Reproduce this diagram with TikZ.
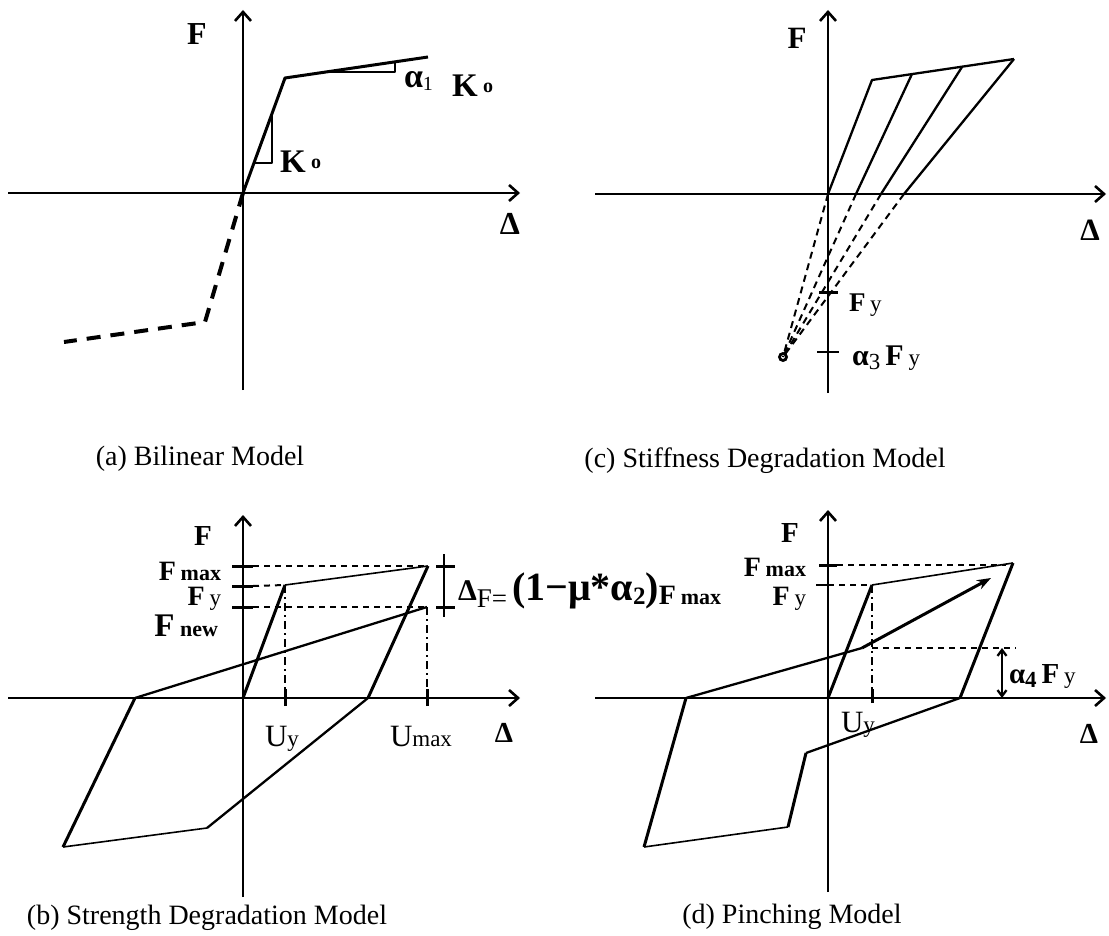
\documentclass[tikz,border=0pt]{standalone}
\usepackage{fontspec}
\setmainfont{Liberation Serif}
\usetikzlibrary{arrows.meta}
\newcommand{\sz}[1]{\fontsize{#1}{#1}\selectfont}
\begin{document}
\begin{tikzpicture}[x=1pt,y=-1pt,
  axis/.style={line width=2.6pt,-{Straight Barb[length=9pt,width=16pt]}},
  thk/.style={line width=3pt,line join=round},
  med/.style={line width=2.3pt,line join=round},
  thn/.style={line width=1.6pt,line join=round},
  tickline/.style={line width=3pt},
  guide/.style={line width=2pt,dash pattern=on 6pt off 5pt},
  vguide/.style={line width=2pt,dash pattern=on 8pt off 4pt on 2pt off 4pt},
  lab/.style={inner sep=0pt,outer sep=0pt},
  captext/.style={inner sep=0pt,font=\sz{28}}
]
\useasboundingbox (0,0) rectangle (1109,936);

%% ---------------- (a) Bilinear ----------------
\coordinate (aXl) at (8,193);   \coordinate (aXr) at (520,193);
\coordinate (aYb) at (243,390); \coordinate (aYt) at (243,10);
\coordinate (aO) at (243,193);
\coordinate (aK) at (285,78);   \coordinate (aE) at (428,57);
\coordinate (aNk) at (205,322); \coordinate (aNe) at (64,342);
\coordinate (aT1) at (254,163); \coordinate (aT2) at (272,163); \coordinate (aT3) at (272,114);
\coordinate (aS1) at (326,72);  \coordinate (aS2) at (395,72);  \coordinate (aS3) at (395,62);
\draw[axis] (aXl) -- (aXr);
\draw[axis] (aYb) -- (aYt);
\draw[thk] (aO) -- (aK) -- (aE);
\draw[line width=4pt,dash pattern=on 14pt off 10pt] (aO) -- (aNk) -- (aNe);
\draw[med] (aT1) -- (aT2) -- (aT3);
\draw[med] (aS1) -- (aS2) -- (aS3);
\node[lab,font=\sz{32}\bfseries] (aF) at (197,34) {F};
\node[lab,font=\sz{32}\bfseries] (aD) at (510,224) {Δ};
\node[lab,anchor=base west] (aK0) at (280,173) {\sz{33}\bfseries K\,\raisebox{4pt}{\sz{20}\bfseries o}};
\node[lab,anchor=base west] (aAl) at (404,88) {\sz{34}\bfseries α\raisebox{-3pt}{\sz{20}\mdseries 1}};
\node[lab,anchor=base west] (aK1) at (452,97) {\sz{33}\bfseries K\,\raisebox{4pt}{\sz{20}\bfseries o}};
\node[captext] (capa) at (200,459) {(a) Bilinear Model};

%% ---------------- (c) Stiffness degradation ----------------
\coordinate (cXl) at (595,194);  \coordinate (cXr) at (1106,194);
\coordinate (cYb) at (828,393);  \coordinate (cYt) at (828,10);
\coordinate (cO) at (828,194);
\coordinate (cA) at (872,80);  \coordinate (cB) at (912,74);
\coordinate (cC) at (962,67);  \coordinate (cD) at (1014,59);
\coordinate (cB1) at (856,194); \coordinate (cC1) at (881,194); \coordinate (cD1) at (904,194);
\coordinate (cP) at (783,357);
\coordinate (cT1) at (819,293); \coordinate (cT2) at (838,293);
\coordinate (cU1) at (817,352); \coordinate (cU2) at (839,352);
\draw[axis] (cXl) -- (cXr);
\draw[axis] (cYb) -- (cYt);
\draw[med] (cO) -- (cA) -- (cD);
\draw[med] (cB) -- (cB1);
\draw[med] (cC) -- (cC1);
\draw[med] (cD) -- (cD1);
\draw[line width=2pt,dash pattern=on 7pt off 5pt] (cO) -- (cP);
\draw[line width=2pt,dash pattern=on 7pt off 5pt] (cB1) -- (cP);
\draw[line width=2pt,dash pattern=on 7pt off 5pt] (cC1) -- (cP);
\draw[line width=2pt,dash pattern=on 7pt off 5pt] (cD1) -- (cP);
\draw[line width=2.8pt] (cP) circle (3.5);
\draw[tickline] (cT1) -- (cT2);
\draw[thn] (cU1) -- (cU2);
\node[lab,font=\sz{31}\bfseries] (cF) at (797,38) {F};
\node[lab,font=\sz{31}\bfseries] (cD0) at (1090,230) {Δ};
\node[lab,anchor=base west] (cFy) at (849,312) {\sz{27}\bfseries F\,{\sz{23}\mdseries y}};
\node[lab,anchor=base west] (cAFy) at (852,365) {\sz{30}\bfseries α\raisebox{-4pt}{\sz{23}\mdseries 3}\,F\,{\sz{23}\mdseries y}};
\node[captext] (capc) at (765,461) {(c) Stiffness Degradation Model};

%% ---------------- (b) Strength degradation ----------------
\coordinate (bXl) at (8,698);   \coordinate (bXr) at (520,698);
\coordinate (bYb) at (243,897); \coordinate (bYt) at (243,515);
\coordinate (bO) at (243,698);
\coordinate (bY) at (285,585);  \coordinate (bM) at (428,566);
\coordinate (bX1) at (368,698); \coordinate (bN) at (207,828);
\coordinate (bL) at (63,847);   \coordinate (bX2) at (135,698);
\coordinate (bNew) at (427,607);
\coordinate (bFm) at (243,566); \coordinate (bFy) at (243,586); \coordinate (bFn) at (243,607);
\coordinate (bUy) at (285,698); \coordinate (bUm) at (427,698);
\draw[axis] (bXl) -- (bXr);
\draw[axis] (bYb) -- (bYt);
\draw[tickline] ([xshift=-11pt]bFm) -- ([xshift=10pt]bFm);
\draw[tickline] ([xshift=-11pt]bFy) -- ([xshift=10pt]bFy);
\draw[tickline] ([xshift=-11pt]bFn) -- ([xshift=10pt]bFn);
\draw[guide] ([xshift=10pt]bFm) -- (bM);
\draw[guide] ([xshift=10pt]bFy) -- (bY);
\draw[guide] ([xshift=10pt]bFn) -- (bNew);
\draw[vguide] (bY) -- (bUy);
\draw[vguide] (bNew) -- (bUm);
\draw[tickline] ([yshift=-8pt]bUy) -- ([yshift=9pt]bUy);
\draw[tickline] ([yshift=-8pt]bUm) -- ([yshift=9pt]bUm);
\draw[thk] (bO) -- (bY);
\draw[thn] (bY) -- (bM);
\draw[thk] (bM) -- (bX1);
\draw[med] (bX1) -- (bN);
\draw[thn] (bN) -- (bL);
\draw[thk] (bL) -- (bX2);
\draw[med] (bX2) -- (bNew);
% Delta F bracket
\coordinate (bBt) at (444,554); \coordinate (bBb) at (444,617);
\coordinate (bBm) at (444,566); \coordinate (bBn) at (444,607);
\draw[med] (bBt) -- (bBb);
\draw[tickline] ([xshift=-8pt]bBm) -- ([xshift=11pt]bBm);
\draw[tickline] ([xshift=-8pt]bBn) -- ([xshift=11pt]bBn);
\node[lab,font=\sz{29}\bfseries] (bF) at (203,536) {F};
\node[lab,anchor=base east] (bFmax) at (221,580) {\sz{28}\bfseries F\,{\sz{22}max}};
\node[lab,anchor=base east] (bFyl) at (221,605) {\sz{28}\bfseries F\,{\sz{23}\mdseries y}};
\node[lab,anchor=base east] (bFnew) at (218,636) {\sz{33}\bfseries F\,{\sz{22}new}};
\node[lab,anchor=base west] (bUyl) at (265,746) {\sz{31}U{\sz{23}y}};
\node[lab,anchor=base west] (bUml) at (390,746) {\sz{31}U{\sz{23}max}};
\node[lab,font=\sz{29}\bfseries] (bD) at (504,733) {Δ};
\node[lab,anchor=base west] (bForm) at (458,600) {\sz{30}\bfseries Δ\raisebox{-7pt}{\sz{27}\mdseries F=}\,{\sz{40}(1−μ*α\raisebox{-4pt}{\sz{25}2})}\raisebox{-4pt}{\sz{28}F\,{\sz{22}max}}};
\node[captext] (capb) at (207,918) {(b) Strength Degradation Model};

%% ---------------- (d) Pinching ----------------
\coordinate (dXl) at (595,698);  \coordinate (dXr) at (1106,698);
\coordinate (dYb) at (828,892);  \coordinate (dYt) at (828,510);
\coordinate (dO) at (828,698);
\coordinate (dY) at (872,585);  \coordinate (dM) at (1013,563);
\coordinate (dX1) at (960,698); \coordinate (dQ) at (806,753);
\coordinate (dR) at (788,827);  \coordinate (dL) at (644,847);
\coordinate (dX2) at (686,698); \coordinate (dP) at (862,648);
\coordinate (dA) at (991,578);
\coordinate (dFm) at (828,565); \coordinate (dFy) at (828,585);
\coordinate (dUy) at (872,698);
\coordinate (dG1) at (872,648); \coordinate (dG2) at (1016,648);
\coordinate (dH1) at (1002,648); \coordinate (dH2) at (1002,698);
\draw[axis] (dXl) -- (dXr);
\draw[axis] (dYb) -- (dYt);
\draw[tickline] ([xshift=-9pt]dFm) -- ([xshift=9pt]dFm);
\draw[thn] ([xshift=-12pt]dFy) -- (dFy);
\draw[guide] ([xshift=9pt]dFm) -- ([xshift=-7pt]dM|-dFm);
\draw[guide] (dFy) -- (dY);
\draw[vguide] (dY) -- (dUy);
\draw[tickline] ([yshift=-5pt]dUy) -- ([yshift=9pt]dUy);
\draw[guide] (dG1) -- (dG2);
\draw[med,{Straight Barb[length=6pt,width=9pt]}-{Straight Barb[length=6pt,width=9pt]}] (dH1) -- (dH2);
\draw[thk] (dO) -- (dY);
\draw[thn] (dY) -- (dM);
\draw[thk] (dM) -- (dX1);
\draw[med] (dX1) -- (dQ);
\draw[thk] (dQ) -- (dR);
\draw[thn] (dR) -- (dL);
\draw[thk] (dL) -- (dX2);
\draw[med] (dX2) -- (dP);
\draw[thk,-{Stealth[length=14pt,width=10pt]}] (dP) -- (dA);
\node[lab,font=\sz{29}\bfseries] (dF) at (790,533) {F};
\node[lab,anchor=base east] (dFmax) at (806,576) {\sz{28}\bfseries F\,{\sz{22}max}};
\node[lab,anchor=base east] (dFyl) at (806,605) {\sz{28}\bfseries F\,{\sz{23}\mdseries y}};
\node[lab,anchor=base west] (dUyl) at (841,732) {\sz{31}U{\sz{23}y}};
\node[lab,font=\sz{29}\bfseries] (dD) at (1089,734) {Δ};
\node[lab,anchor=base west] (dAFy) at (1009,683) {\sz{29}\bfseries α\raisebox{-4pt}{\sz{23}4}\,F\,{\sz{23}\mdseries y}};
\node[captext] (capd) at (792,917) {(d) Pinching Model};
\end{tikzpicture}
\end{document}
